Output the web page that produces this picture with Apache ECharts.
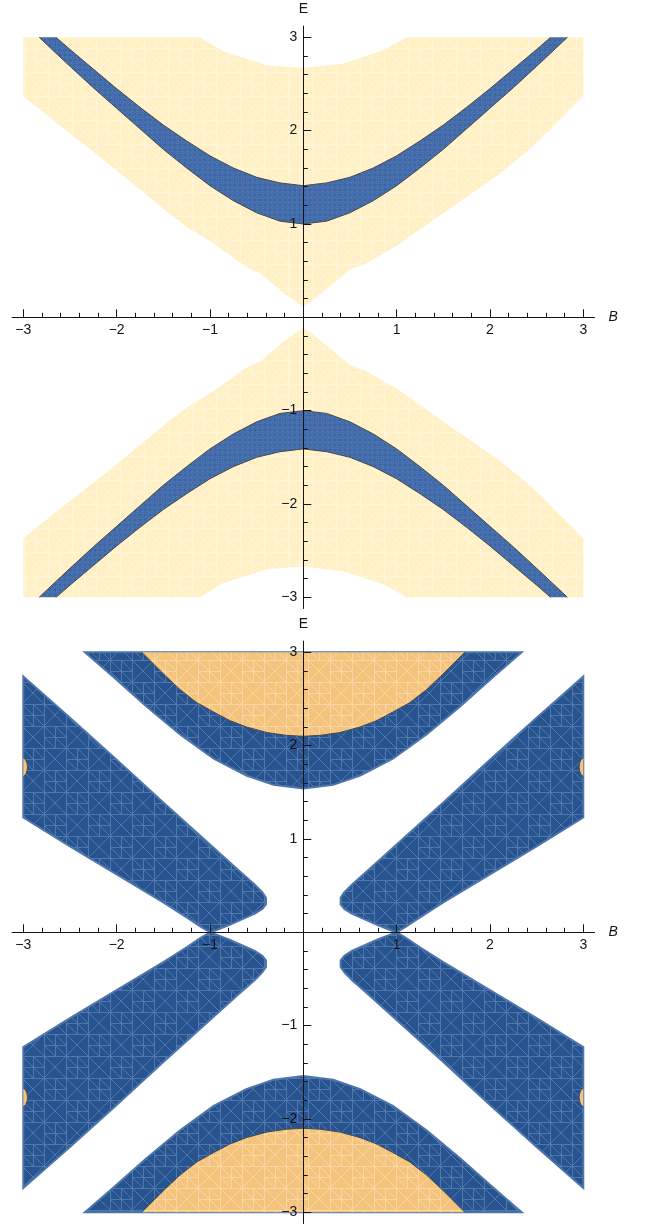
<!DOCTYPE html>
<html>
<head>
<meta charset="utf-8">
<script src="https://cdn.jsdelivr.net/npm/echarts@6/dist/echarts.min.js"></script>
<style>
  html, body { margin: 0; padding: 0; background: #fff; }
  #chart { width: 649px; height: 1226px; }
</style>
</head>
<body>
<div id="chart"></div>
<script>
// ---------- axes ----------
const axisRange = 3.12;
const majorTicks = [-3, -2, -1, 1, 2, 3];
const minorTicks = [-2.8, -2.6, -2.4, -2.2, -1.8, -1.6, -1.4, -1.2, -0.8, -0.6, -0.4, -0.2,
                    0.2, 0.4, 0.6, 0.8, 1.2, 1.4, 1.6, 1.8, 2.2, 2.4, 2.6, 2.8];

// ---------- upper panel: [B, E] ----------
// band edges for B >= 0 (mirrored to B < 0)
const bandOuterHalf = [[0, 1.41], [0.25, 1.44], [0.5, 1.5], [0.75, 1.6], [1, 1.73], [1.25, 1.89],
                       [1.5, 2.06], [1.75, 2.25], [2, 2.45], [2.25, 2.66], [2.5, 2.87], [2.65, 3]];
const bandInnerHalf = [[0, 1.0], [0.25, 1.03], [0.5, 1.12], [0.75, 1.25], [1, 1.41], [1.25, 1.6],
                       [1.5, 1.8], [1.75, 2.02], [2, 2.24], [2.25, 2.46], [2.5, 2.69], [2.65, 2.83], [2.83, 3]];
// pale region above the axis (its mirror lies below the axis)
const paleTop = [[-3, 3], [-1.11, 3], [-0.86, 2.85], [-0.39, 2.70], [0, 2.67], [0.43, 2.72],
                 [0.86, 2.86], [1.11, 3], [3, 3]];
const paleBottom = [[3, 2.37], [2.46, 1.83], [2.11, 1.54], [1.75, 1.29], [1.39, 1.04], [1.04, 0.79],
                    [0.68, 0.58], [0.5, 0.51], [0.32, 0.36], [0.11, 0.19], [0, 0.11], [-0.21, 0.26],
                    [-0.46, 0.47], [-0.61, 0.54], [-0.96, 0.79], [-1.25, 0.97], [-1.46, 1.13],
                    [-1.64, 1.28], [-2.18, 1.72], [-2.68, 2.11], [-3, 2.37]];

// ---------- lower panel: [B, E] ----------
const capOuter = [[-2.34, 3], [-2.04, 2.74], [-1.68, 2.42], [-1.32, 2.12], [-0.96, 1.86], [-0.61, 1.68],
                  [-0.32, 1.58], [0, 1.54], [0.32, 1.58], [0.61, 1.68], [0.96, 1.86], [1.32, 2.12],
                  [1.68, 2.42], [2.04, 2.74], [2.34, 3]];
const capInner = [[-1.73, 3], [-1.5, 2.77], [-1.32, 2.6], [-1.14, 2.46], [-0.96, 2.36], [-0.79, 2.27],
                  [-0.61, 2.2], [-0.39, 2.14], [-0.18, 2.11], [0, 2.1], [0.18, 2.11], [0.39, 2.14],
                  [0.61, 2.2], [0.79, 2.27], [0.96, 2.36], [1.14, 2.46], [1.32, 2.6], [1.5, 2.77], [1.73, 3]];
// arm in the B < 0, E > 0 quadrant (the other three are its reflections)
const armUpperLeft = [[-3, 2.74], [-2.5, 2.30], [-2, 1.85], [-1.5, 1.39], [-1, 0.94], [-0.7, 0.67],
                      [-0.52, 0.51], [-0.44, 0.43], [-0.40, 0.37], [-0.40, 0.30], [-0.44, 0.25],
                      [-0.52, 0.20], [-0.61, 0.16], [-0.79, 0.08], [-0.93, 0.025], [-1.0, 0.0],
                      [-1.1, 0.06], [-1.25, 0.16], [-1.5, 0.32], [-2, 0.62], [-2.5, 0.92], [-3, 1.23]];
const earUpperLeft = [[-3, 1.87], [-2.975, 1.85], [-2.96, 1.81], [-2.955, 1.77], [-2.96, 1.73],
                      [-2.975, 1.69], [-3, 1.67]];

// ---------- helpers ----------
const mirrorB = pts => pts.map(([b, e]) => [-b, e]);
const flipE = pts => pts.map(([b, e]) => [b, -e]);
const rev = pts => pts.slice().reverse();
const fullCurve = half => rev(mirrorB(half)).concat(half.slice(1));

const bandOuter = fullCurve(bandOuterHalf);
const bandInner = fullCurve(bandInnerHalf);
const bandPoly = bandOuter.concat(rev(bandInner));
const palePoly = paleTop.concat(paleBottom);

const FONT = '"Liberation Sans", Arial, Helvetica, sans-serif';
const INK = '#141414';
const EDGE = '#4a4a4a';

// grid geometry: both panels are square, axes cross at the origin
const GRID_LEFT = 12.1;
const GRID_SIZE = 582.4;
const HALF = GRID_SIZE / 2;

function meshPattern(base, line, s) {
  const c = document.createElement('canvas');
  c.width = c.height = 2 * s;
  const x = c.getContext('2d');
  x.fillStyle = base;
  x.fillRect(0, 0, 2 * s, 2 * s);
  x.strokeStyle = line;
  x.lineWidth = 1;
  x.beginPath();
  for (const v of [0.5, s + 0.5]) {
    x.moveTo(0, v); x.lineTo(2 * s, v);
    x.moveTo(v, 0); x.lineTo(v, 2 * s);
  }
  for (const o of [0, s]) {
    x.moveTo(o, o); x.lineTo(o + s, o + s);
    x.moveTo(o + s, o); x.lineTo(o, o + s);
  }
  const h = s / 2;
  for (const [ox, oy] of [[s, 0], [0, s]]) {
    x.moveTo(ox, oy + h + 0.5); x.lineTo(ox + s, oy + h + 0.5);
    x.moveTo(ox + h + 0.5, oy); x.lineTo(ox + h + 0.5, oy + s);
    for (const [a, b] of [[0, 0], [h, 0], [0, h], [h, h]]) {
      x.moveTo(ox + a, oy + b); x.lineTo(ox + a + h, oy + b + h);
    }
  }
  x.stroke();
  return { image: c, repeat: 'repeat' };
}

function ringPattern(base, ring, s) {
  const c = document.createElement('canvas');
  c.width = c.height = s;
  const x = c.getContext('2d');
  x.fillStyle = base;
  x.fillRect(0, 0, s, s);
  x.strokeStyle = ring;
  x.lineWidth = 0.8;
  x.beginPath();
  x.arc(s / 2, s / 2, s / 3.2, 0, Math.PI * 2);
  x.stroke();
  return { image: c, repeat: 'repeat' };
}

const paleFill = meshPattern('#FFF0C6', '#FFF5DA', 24);
const bandFill = ringPattern('#3C66A5', '#5F83BB', 5);
const deepFill = meshPattern('#27538E', '#5077AE', 22);
const amberFill = meshPattern('#F5C47C', '#F8D6A5', 22);

function polygon(g, pts, style, z) {
  return {
    type: 'custom', coordinateSystem: 'cartesian2d',
    xAxisIndex: 2 * g, yAxisIndex: 2 * g,
    data: pts, encode: { x: 0, y: 1 },
    z: z, silent: true, animation: false,
    renderItem(params, api) {
      if (params.dataIndex !== 0) return;
      return { type: 'polygon', shape: { points: pts.map(p => api.coord(p)) }, style: style };
    }
  };
}

function edgeLine(g, pts, z) {
  return {
    type: 'line', xAxisIndex: 2 * g, yAxisIndex: 2 * g,
    data: pts, symbol: 'none', showSymbol: false,
    lineStyle: { color: EDGE, width: 1 },
    z: z || 4, silent: true, animation: false
  };
}

const fmt = v => String(v).replace('-', '\u2212');

function axesFor(g, dim) {
  const isX = dim === 'x';
  const common = {
    gridIndex: g, type: 'value', position: isX ? 'bottom' : 'left',
    min: -axisRange, max: axisRange, z: 10,
    offset: -HALF,
    splitLine: { show: false }
  };
  const major = Object.assign({}, common, {
    name: isX ? 'B' : 'E', nameLocation: 'end', nameGap: isX ? 14 : 10,
    nameTextStyle: { fontFamily: FONT, fontSize: 14, color: INK, fontStyle: isX ? 'italic' : 'normal' },
    axisLine: { onZero: false, lineStyle: { color: INK, width: 1 } },
    axisTick: { inside: true, length: 8, customValues: majorTicks, lineStyle: { color: INK, width: 1 } },
    axisLabel: { customValues: majorTicks, margin: 6, fontFamily: FONT, fontSize: 14, color: INK, formatter: fmt }
  });
  const minor = Object.assign({}, common, {
    axisLine: { onZero: false, show: false },
    axisTick: { show: true, inside: true, length: 4.5, customValues: minorTicks, lineStyle: { color: INK, width: 1 } },
    axisLabel: { show: false }
  });
  return [major, minor];
}

const series = [];
// upper panel
series.push(polygon(0, palePoly, { fill: paleFill }, 1));
series.push(polygon(0, flipE(palePoly), { fill: paleFill }, 1));
series.push(polygon(0, bandPoly, { fill: bandFill }, 2));
series.push(polygon(0, flipE(bandPoly), { fill: bandFill }, 2));
series.push(edgeLine(0, bandOuter), edgeLine(0, bandInner));
series.push(edgeLine(0, flipE(bandOuter)), edgeLine(0, flipE(bandInner)));

// lower panel
const deepStyle = { fill: deepFill, stroke: '#4F75AD', lineWidth: 2 };
const arms = [armUpperLeft, mirrorB(armUpperLeft), flipE(armUpperLeft), flipE(mirrorB(armUpperLeft))];
arms.forEach(a => series.push(polygon(1, a, deepStyle, 1)));
series.push(polygon(1, capOuter, deepStyle, 1));
series.push(polygon(1, flipE(capOuter), deepStyle, 1));
series.push(polygon(1, capInner, { fill: amberFill }, 2));
series.push(polygon(1, flipE(capInner), { fill: amberFill }, 2));
series.push(edgeLine(1, capInner), edgeLine(1, flipE(capInner)));
const ears = [earUpperLeft, mirrorB(earUpperLeft), flipE(earUpperLeft), flipE(mirrorB(earUpperLeft))];
ears.forEach(e => {
  series.push(polygon(1, e, { fill: '#F5C47C' }, 3));
  series.push(edgeLine(1, e, 4));
});

const option = {
  animation: false,
  backgroundColor: '#ffffff',
  grid: [
    { left: GRID_LEFT, top: 26.1, width: GRID_SIZE, height: GRID_SIZE, containLabel: false, outerBoundsMode: 'none' },
    { left: GRID_LEFT, top: 641.1, width: GRID_SIZE, height: GRID_SIZE, containLabel: false, outerBoundsMode: 'none' }
  ],
  xAxis: [...axesFor(0, 'x'), ...axesFor(1, 'x')],
  yAxis: [...axesFor(0, 'y'), ...axesFor(1, 'y')],
  series: series
};

const chart = echarts.init(document.getElementById('chart'), null, { renderer: 'canvas' });
chart.setOption(option);
</script>
</body>
</html>
